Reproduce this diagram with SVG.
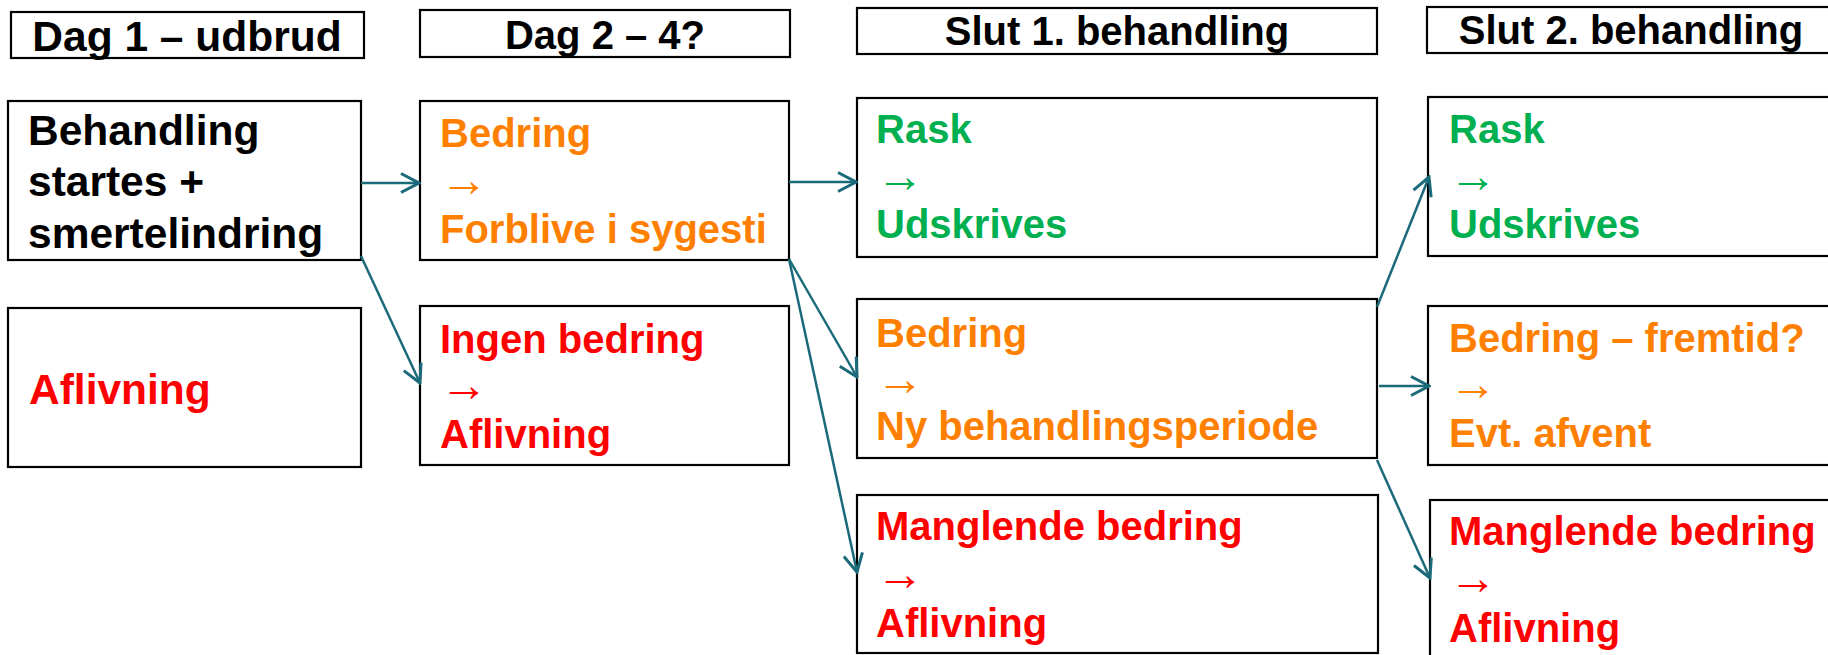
<svg xmlns="http://www.w3.org/2000/svg" width="1828" height="655" viewBox="0 0 1828 655">
<style>
.box{fill:#fff;stroke:#000;stroke-width:2.2}
.t{font-family:"Liberation Sans",Arial,sans-serif;font-weight:bold;font-size:40px}
.big{font-size:42.5px}
.ar{font-family:"Liberation Sans",Arial,sans-serif;font-weight:normal;font-size:48px}
.k{fill:#000}.o{fill:#FF8000}.g{fill:#00B050}.r{fill:#FF0000}
.c{stroke:#1B6A7A;stroke-width:2.5;fill:none}
</style>
<defs>
<marker id="ah" viewBox="0 0 22 22" refX="20" refY="11" markerWidth="22" markerHeight="22" markerUnits="userSpaceOnUse" orient="auto">
<path d="M2,1.5 L20,11 L2,20.5" fill="none" stroke="#1B6A7A" stroke-width="3"/>
</marker>
</defs>
<rect width="1828" height="655" fill="#fff"/>
<g id="h1"><rect class="box" x="11" y="12" width="353" height="46"/><text class="t big k" x="187" y="51" text-anchor="middle">Dag 1 – udbrud</text></g>
<g id="h2"><rect class="box" x="420" y="10" width="370" height="47"/><text class="t k" x="605" y="49" text-anchor="middle">Dag 2 – 4?</text></g>
<g id="h3"><rect class="box" x="857" y="8" width="520" height="46"/><text class="t k" x="1117" y="45" text-anchor="middle">Slut 1. behandling</text></g>
<g id="h4"><rect class="box" x="1427" y="7" width="440" height="46"/><text class="t k" x="1631" y="44" text-anchor="middle">Slut 2. behandling</text></g>

<g id="n1"><rect class="box" x="8" y="101" width="353" height="159"/>
<text class="t big k" x="28" y="145">Behandling</text><text class="t big k" x="28" y="196">startes +</text><text class="t big k" x="28" y="248">smertelindring</text></g>
<g id="n2"><rect class="box" x="8" y="308" width="353" height="159"/>
<text class="t big r" x="29" y="404">Aflivning</text></g>
<g id="n3"><rect class="box" x="420" y="101" width="369" height="159"/>
<text class="t o" x="440" y="147">Bedring</text><text class="ar o" x="440" y="196">→</text><text class="t o" x="440" y="243">Forblive i sygesti</text></g>
<g id="n4"><rect class="box" x="420" y="306" width="369" height="159"/>
<text class="t r" x="440" y="353">Ingen bedring</text><text class="ar r" x="440" y="401">→</text><text class="t r" x="440" y="448">Aflivning</text></g>
<g id="n5"><rect class="box" x="857" y="98" width="520" height="159"/>
<text class="t g" x="876" y="143">Rask</text><text class="ar g" x="876" y="192">→</text><text class="t g" x="876" y="238">Udskrives</text></g>
<g id="n6"><rect class="box" x="857" y="299" width="520" height="159"/>
<text class="t o" x="876" y="347">Bedring</text><text class="ar o" x="876" y="395">→</text><text class="t o" x="876" y="440">Ny behandlingsperiode</text></g>
<g id="n7"><rect class="box" x="857" y="495" width="521" height="158"/>
<text class="t r" x="876" y="540">Manglende bedring</text><text class="ar r" x="876" y="590">→</text><text class="t r" x="876" y="637">Aflivning</text></g>
<g id="n8"><rect class="box" x="1428" y="97" width="440" height="159"/>
<text class="t g" x="1449" y="143">Rask</text><text class="ar g" x="1449" y="192">→</text><text class="t g" x="1449" y="238">Udskrives</text></g>
<g id="n9"><rect class="box" x="1428" y="306" width="440" height="159"/>
<text class="t o" x="1449" y="352">Bedring – fremtid?</text><text class="ar o" x="1449" y="400">→</text><text class="t o" x="1449" y="447">Evt. afvent</text></g>
<g id="n10"><rect class="box" x="1430" y="500" width="440" height="200"/>
<text class="t r" x="1449" y="545">Manglende bedring</text><text class="ar r" x="1449" y="594">→</text><text class="t r" x="1449" y="642">Aflivning</text></g>

<g id="connectors">
<line class="c" x1="361" y1="183" x2="419" y2="183" marker-end="url(#ah)"/>
<line class="c" x1="361" y1="256" x2="420" y2="383" marker-end="url(#ah)"/>
<line class="c" x1="789" y1="182" x2="856" y2="182" marker-end="url(#ah)"/>
<line class="c" x1="789" y1="259" x2="857" y2="377" marker-end="url(#ah)"/>
<line class="c" x1="789" y1="259" x2="857" y2="572" marker-end="url(#ah)"/>
<line class="c" x1="1377" y1="307" x2="1429" y2="177" marker-end="url(#ah)"/>
<line class="c" x1="1379" y1="386" x2="1429" y2="386" marker-end="url(#ah)"/>
<line class="c" x1="1377" y1="460" x2="1430" y2="578" marker-end="url(#ah)"/>
</g>
</svg>
